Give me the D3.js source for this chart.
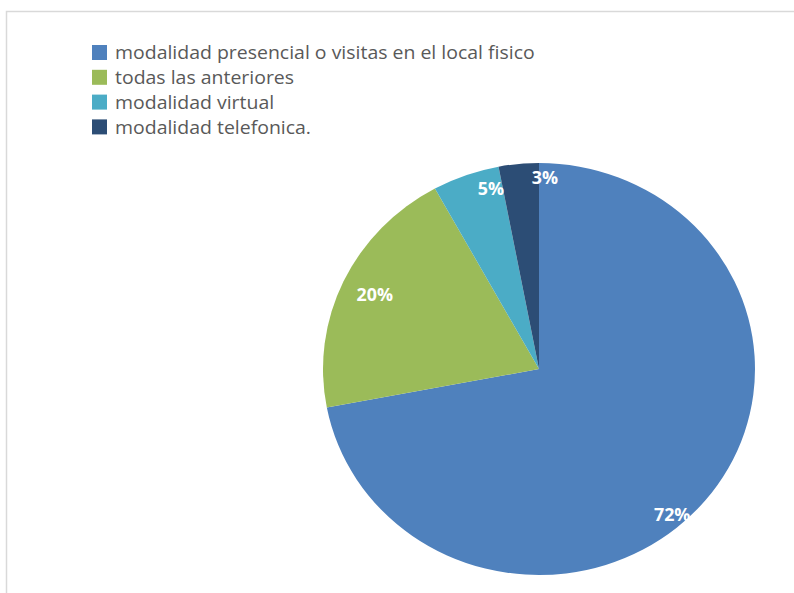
<!DOCTYPE html>
<html>
<head>
<meta charset="utf-8">
<script src="https://cdn.jsdelivr.net/npm/d3@7"></script>
<style>
  html, body { margin: 0; padding: 0; background: #ffffff; }
  svg { display: block; }
</style>
</head>
<body>
<svg id="chart" width="794" height="593"></svg>
<script>
// Preferred contact channel (share of respondents, %)
const categories = [
  "modalidad presencial o visitas en el local fisico",
  "todas las anteriores",
  "modalidad virtual",
  "modalidad telefonica."
];
const values = [72, 20, 5, 3];
const labels = ["72%", "20%", "5%", "3%"];
const colors = ["#4F81BD", "#9BBB59", "#4BACC6", "#2C4D75"];

// Label placement tweaks: angular nudge (degrees) and radius fraction
const labelNudgeDeg = [9.4, 0, 5.5, 7.1];
const labelRadiusFrac = [0.94, 0.84, 0.9, 0.925];

const svg = d3.select("#chart");
const W = 794, H = 593;
const FONT = "'Open Sans', 'DejaVu Sans', sans-serif";

// Chart area frame
svg.append("path")
  .attr("d", `M6.5,${H} V11.5 H${W}`)
  .attr("fill", "none")
  .attr("stroke", "#d9d9d9")
  .attr("stroke-width", 1.5);

// Pie (drawn slightly wider than tall)
const cx = 539, cy = 369;
const r = 206;
const sx = 216 / 206;

const pie = d3.pie().sort(null).value(d => d)(values);
const arc = d3.arc().innerRadius(0).outerRadius(r);

const g = svg.append("g")
  .attr("transform", `translate(${cx},${cy}) scale(${sx},1)`);

g.selectAll("path.slice")
  .data(pie)
  .join("path")
  .attr("class", "slice")
  .attr("d", arc)
  .attr("fill", (d, i) => colors[i]);

// Value labels
const labelPos = (d, i) => {
  const a = (d.startAngle + d.endAngle) / 2 + labelNudgeDeg[i] * Math.PI / 180;
  return [Math.sin(a) * r * labelRadiusFrac[i] * sx, -Math.cos(a) * r * labelRadiusFrac[i]];
};
const lg = svg.append("g").attr("transform", `translate(${cx},${cy})`);
lg.selectAll("text")
  .data(pie)
  .join("text")
  .attr("transform", (d, i) => {
    const [x, y] = labelPos(d, i);
    return `translate(${x},${y}) scale(${sx},1)`;
  })
  .attr("dy", "0.35em")
  .attr("text-anchor", "middle")
  .attr("fill", "#ffffff")
  .attr("font-family", FONT)
  .attr("font-weight", "bold")
  .attr("font-size", 17)
  .text((d, i) => labels[i]);

// Legend
const legend = svg.append("g").attr("transform", "translate(92,45)");
const rowH = 24.8;
const items = legend.selectAll("g.item")
  .data(categories)
  .join("g")
  .attr("class", "item")
  .attr("transform", (d, i) => `translate(0,${i * rowH})`);

items.append("rect")
  .attr("width", 15)
  .attr("height", 15)
  .attr("fill", (d, i) => colors[i]);

const legendText = items.append("text")
  .attr("x", 0)
  .attr("y", 0)
  .attr("dy", "0.35em")
  .attr("fill", "#595959")
  .attr("font-family", FONT)
  .attr("font-size", 17.5)
  .text(d => d);

// Widen legend text to the same horizontal stretch as the rest of the chart
const firstLen = legendText.node().getComputedTextLength();
const tsx = 420 / firstLen;
legendText.attr("transform", `translate(23,8) scale(${tsx},1)`);
</script>
</body>
</html>
